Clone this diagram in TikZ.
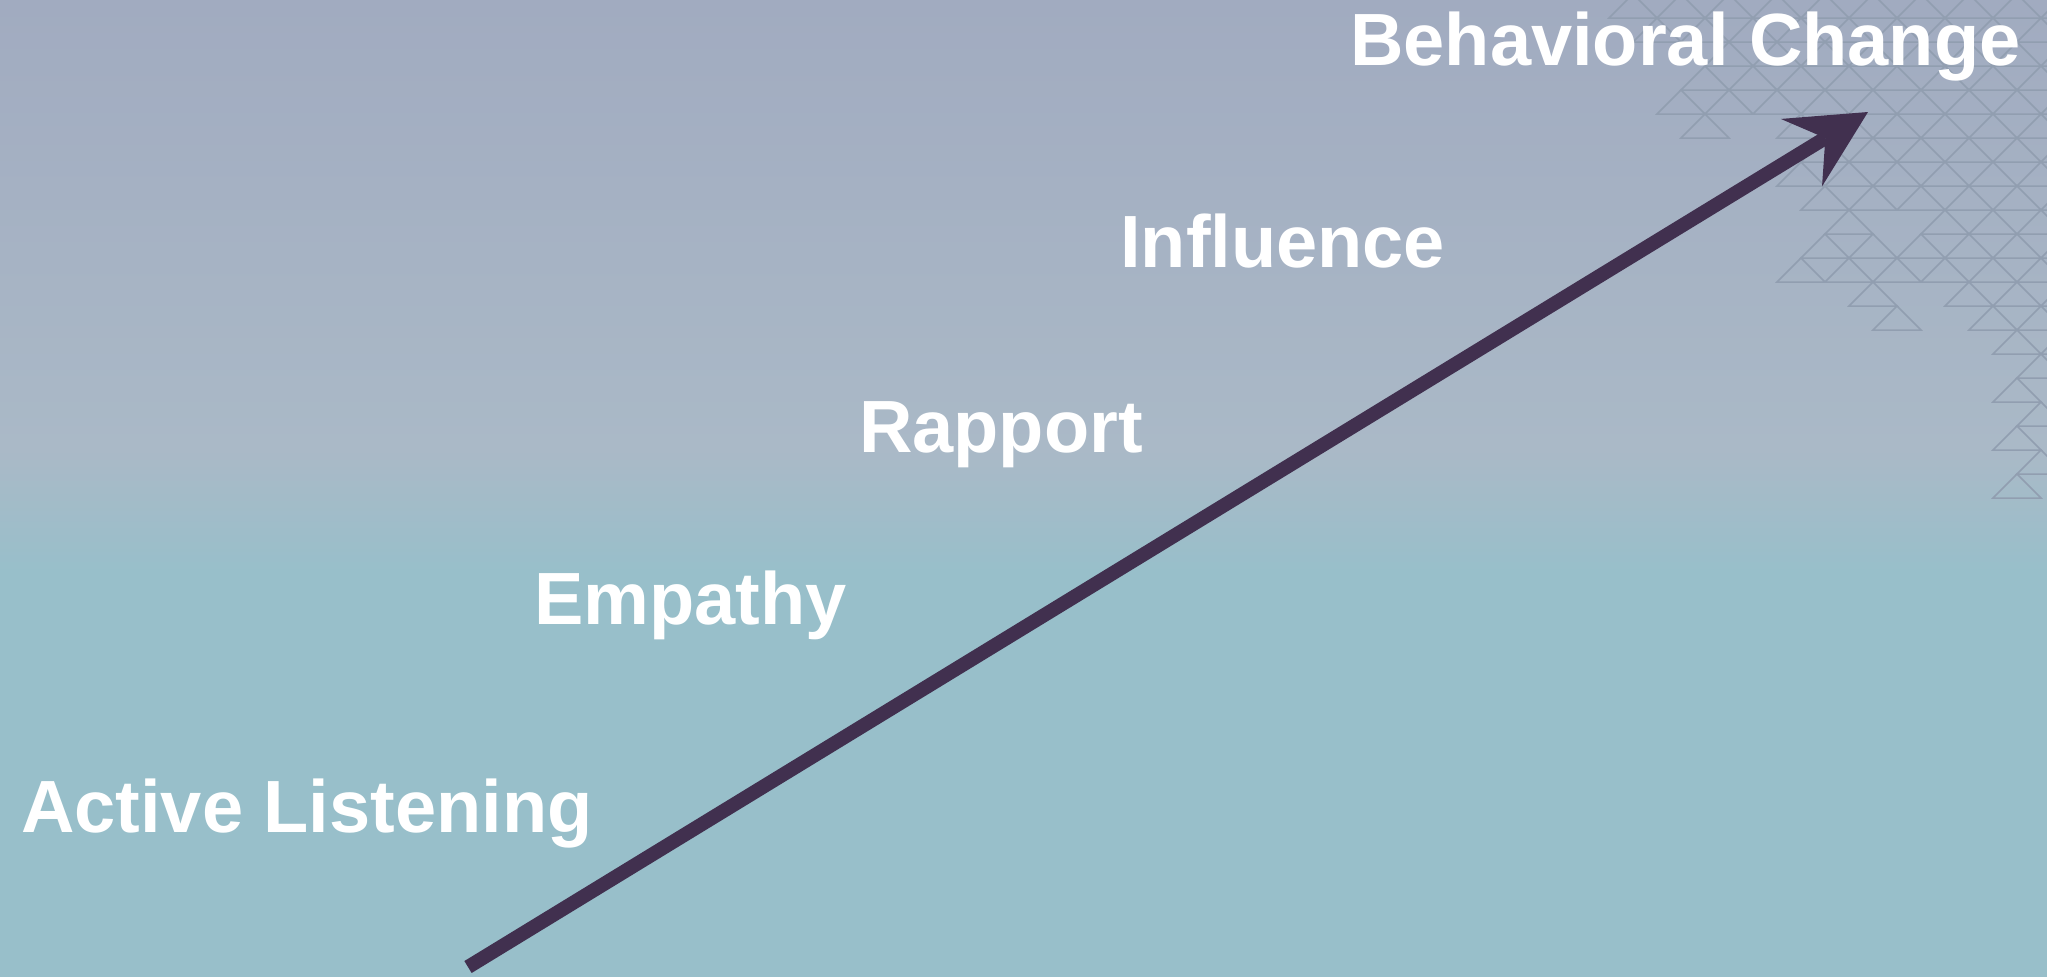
\documentclass[tikz,border=0pt]{standalone}
\usepackage{fontspec}
\setmainfont{Liberation Sans}
\usetikzlibrary{arrows.meta}

\definecolor{bgtop}{HTML}{A1ABC0}
\definecolor{bgmid}{HTML}{AAB9C7}
\definecolor{bgteal}{HTML}{98BFCA}
\definecolor{gridline}{HTML}{919EB0}
\definecolor{arrowcol}{HTML}{41304F}

\tikzset{
  stage/.style={text=white, font=\bfseries\fontsize{74}{80}\selectfont,
                inner sep=0pt, anchor=base west},
  gridtri/.style={draw=gridline, line width=1.5pt, line join=miter},
  growth/.style={draw=arrowcol, line width=14pt,
                 -{Stealth[length=78pt, width=79pt, inset=28pt, line width=0pt]}},
}

% one upward triangle of the lattice: apex column #1, apex row #2
\newcommand\gtri[2]{%
  \draw[gridtri] ({2017+24*(#1)-24},{42+24*(#2)}) -- ({2017+24*(#1)},{18+24*(#2)})
                 -- ({2017+24*(#1)+24},{42+24*(#2)}) -- cycle;}

\begin{document}
\begin{tikzpicture}[x=1pt, y=-1pt]
  \useasboundingbox (0,0) rectangle (2047,977);

  % background bands
  \shade[top color=bgtop, bottom color=bgmid] (0,0) rectangle (2047,450);
  \shade[top color=bgmid, bottom color=bgteal] (0,449.5) rectangle (2047,572);
  \fill[bgteal] (0,571.5) rectangle (2047,977);

  % triangle lattice in the upper right corner
  \begin{scope}
    \clip (0,0) rectangle (2047,977);
    \foreach \r/\js in {
      -1/{-16,-14,...,2},
      0/{-15,-13,...,1},
      1/{-12,-10,...,2},
      2/{-13,-11,...,1},
      3/{-14,-12,...,2},
      4/{-13,-9,-7,-5,-3,-1,1},
      5/{-8,-6,...,2},
      6/{-9,-7,...,1},
      7/{-8,-6,...,2},
      8/{-7,-3,-1,1},
      9/{-8,-6,...,2},
      10/{-9,-7,...,1},
      11/{-6,-2,0,2},
      12/{-5,-1,1},
      13/{0,2},
      14/{1}, 15/{0}, 16/{1}, 17/{0}, 18/{1}, 19/{0}}
      {\foreach \j in \js {\gtri{\j}{\r}}}
  \end{scope}

  % rising arrow
  \coordinate (base) at (468,967);
  \coordinate (peak) at (1868,112);
  \draw[growth] (base) -- (peak);

  % stages
  \node[stage] (listen)   at (21,832)   {Active Listening};
  \node[stage] (empathy)  at (534,624)  {Empathy};
  \node[stage] (rapport)  at (859,452)  {Rapport};
  \node[stage] (influence) at (1120,267) {Influence};
  \node[stage] (change)   at (1350,65)  {Behavioral Change};
\end{tikzpicture}
\end{document}
